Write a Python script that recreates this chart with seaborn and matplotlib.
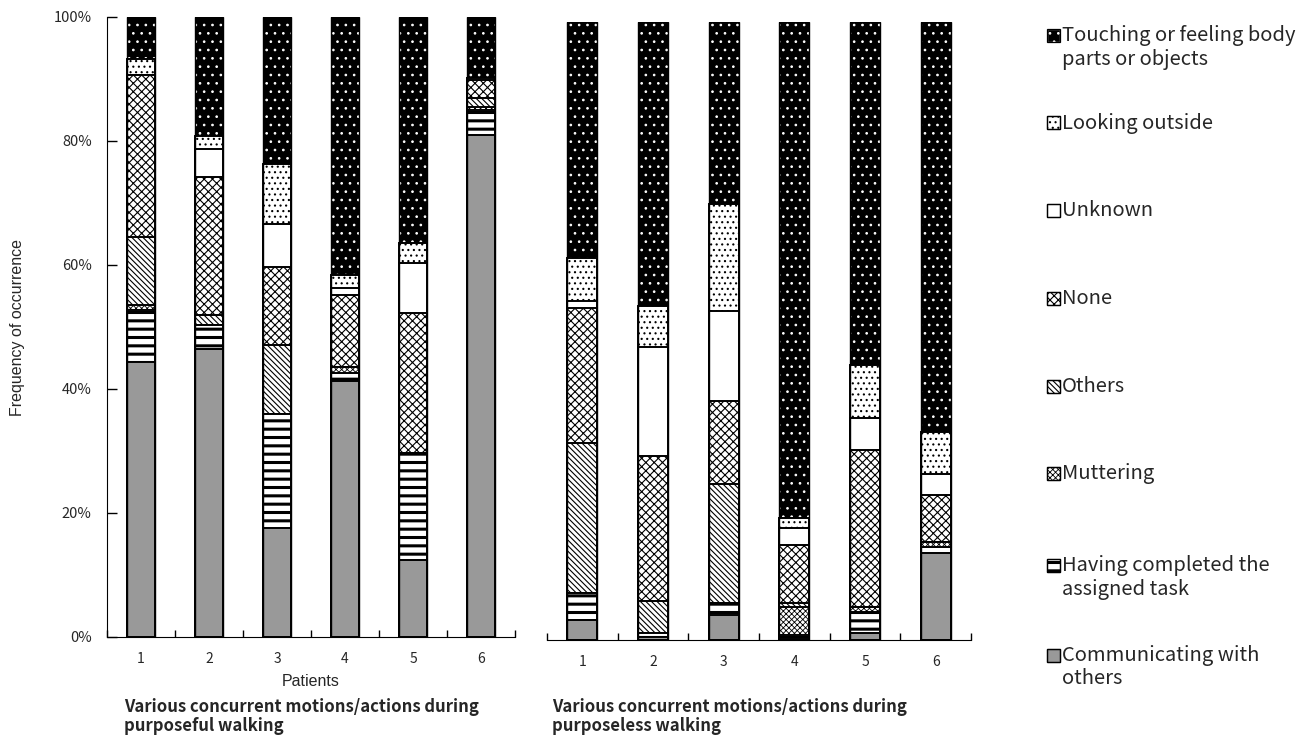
import numpy as np
import matplotlib.pyplot as plt
import seaborn as sns
from matplotlib.patches import Rectangle

sns.set_style("white")
plt.rcParams['font.family'] = ['Noto Sans CJK JP', 'DejaVu Sans']

patients = ['1', '2', '3', '4', '5', '6']

activities = ['Communicating with\nothers',
              'Having completed the\nassigned task',
              'Muttering', 'Others', 'None', 'Unknown',
              'Looking outside',
              'Touching or feeling body\nparts or objects']

# purposeful walking (% of occurrence), bottom -> top
pf_comm = [44.4, 46.5, 17.6, 41.3, 12.4, 81.0]
pf_task = [8.3, 3.9, 18.4, 1.3, 17.3, 4.0]
pf_mutter = [0.8, 0.0, 0.0, 0.9, 0.0, 0.5]
pf_others = [11.0, 1.5, 11.1, 0.0, 0.0, 1.5]
pf_none = [26.1, 22.3, 12.6, 11.7, 22.6, 2.8]
pf_unknown = [0.0, 4.5, 6.9, 1.1, 8.0, 0.4]
pf_looking = [2.6, 2.1, 9.7, 2.1, 3.2, 0.0]
pf_touch = [6.8, 19.2, 23.7, 41.6, 36.5, 9.8]

# purposeless walking
pl_comm = [3.2, 0.5, 4.0, 0.3, 1.2, 14.1]
pl_task = [4.4, 0.6, 2.0, 0.5, 3.3, 1.0]
pl_mutter = [0.0, 0.0, 0.0, 4.5, 0.8, 0.8]
pl_others = [24.3, 5.2, 19.2, 0.7, 0.0, 0.0]
pl_none = [21.8, 23.5, 13.5, 9.4, 25.4, 7.6]
pl_unknown = [1.2, 17.6, 14.5, 2.7, 5.2, 3.4]
pl_looking = [6.9, 6.6, 17.4, 1.6, 8.6, 6.8]
pl_touch = [38.2, 46.0, 29.4, 80.3, 55.5, 66.3]

# look of each activity (same order as activities)
faces = ['#999999', 'white', 'white', 'white', 'white', 'white', 'white', 'black']
hatches = [None, '--', 'xxxxxx', '\\' * 6, 'xxxx', None, '...', '..']
hatch_lw = [1.0, 2.2, 0.6, 0.8, 0.8, 1.0, 0.8, 0.7]

W, H = 1306, 740
fig = plt.figure(figsize=(W / 100, H / 100), dpi=100)
ax1 = fig.add_axes([107 / W, 103 / H, 408 / W, 620 / H])
ax2 = fig.add_axes([547 / W, 100 / H, 424 / W, 618 / H])


def draw_panel(ax, layers):
    # stacked bars: draw cumulative totals from the top layer down
    cum = np.cumsum(np.array(layers), axis=0)
    for k in range(len(layers) - 1, -1, -1):
        face, hatch, hlw = faces[k], hatches[k], hatch_lw[k]
        edge = 'white' if face == 'black' else 'black'
        n0 = len(ax.patches)
        with plt.rc_context({'hatch.linewidth': hlw}):
            sns.barplot(x=patients, y=cum[k], ax=ax, width=0.42,
                        saturation=1, facecolor=face, edgecolor=edge,
                        linewidth=0 if face == 'black' else 1.4, hatch=hatch)
        for p in ax.patches[n0:]:
            if hasattr(p, 'set_hatch_linewidth'):
                p.set_hatch_linewidth(hlw)
    # outer outline of every bar
    sns.barplot(x=patients, y=cum[-1], ax=ax, width=0.42, facecolor='none',
                edgecolor='black', linewidth=1.0)

    ax.set_ylim(0, 100)
    ax.set_xlim(-0.5, 5.5)
    ax.set_xticks(range(6))
    ax.set_xticklabels(patients)
    ax.set_xticks(np.arange(-0.5, 6, 1), minor=True)
    ax.tick_params(axis='x', which='major', length=0, pad=11, labelsize=10)
    ax.tick_params(axis='x', which='minor', direction='in', length=5,
                   width=1, color='black', bottom=True)
    for s in ['top', 'right']:
        ax.spines[s].set_visible(False)
    ax.spines['bottom'].set_color('black')
    ax.spines['left'].set_color('black')
    ax.set_xlabel('')
    ax.set_ylabel('')


draw_panel(ax1, [pf_comm, pf_task, pf_mutter, pf_others, pf_none,
                 pf_unknown, pf_looking, pf_touch])
draw_panel(ax2, [pl_comm, pl_task, pl_mutter, pl_others, pl_none,
                 pl_unknown, pl_looking, pl_touch])

ax1.set_yticks(range(0, 101, 20))
ax1.set_yticklabels([f'{v}%' for v in range(0, 101, 20)])
ax1.tick_params(axis='y', direction='in', length=7, width=1, pad=11,
                labelsize=10.5, left=True, color='black')
ax1.set_ylabel('Frequency of occurrence', fontsize=11.5,
               family=['Liberation Sans', 'DejaVu Sans'])
ax1.yaxis.set_label_coords(-0.2, 0.5)

ax2.set_yticks([])
ax2.spines['left'].set_visible(False)

fig.text(311 / W, 1 - 682 / H, 'Patients', ha='center', va='center',
         fontsize=11.5, family=['Liberation Sans', 'DejaVu Sans'])

fig.text(124 / W, 1 - 698 / H,
         'Various concurrent motions/actions during\npurposeful walking',
         ha='left', va='top', fontsize=12, weight='bold', linespacing=1.05)
fig.text(552 / W, 1 - 698 / H,
         'Various concurrent motions/actions during\npurposeless walking',
         ha='left', va='top', fontsize=12, weight='bold', linespacing=1.05)

# legend, top entry first (first-line centre, pixels from top)
legend_rows = [36, 123, 211, 299, 387, 474, 566, 656]
order = list(range(len(activities)))[::-1]
for y, i in zip(legend_rows, order):
    edge = 'white' if faces[i] == 'black' else 'black'
    with plt.rc_context({'hatch.linewidth': hatch_lw[i]}):
        r = Rectangle((1047 / W, 1 - (y + 6) / H), 13 / W, 13 / H,
                      transform=fig.transFigure, facecolor=faces[i],
                      edgecolor=edge, hatch=hatches[i], linewidth=0.9)
    fig.add_artist(r)
    fig.add_artist(Rectangle((1047 / W, 1 - (y + 6) / H), 13 / W, 13 / H,
                             transform=fig.transFigure, fill=False,
                             edgecolor='black', linewidth=0.9))
    for j, line in enumerate(activities[i].split('\n')):
        fig.text(1062 / W, 1 - (y + 23 * j) / H, line, ha='left',
                 va='center', fontsize=14.5)

fig.savefig('out.png', dpi=100)
